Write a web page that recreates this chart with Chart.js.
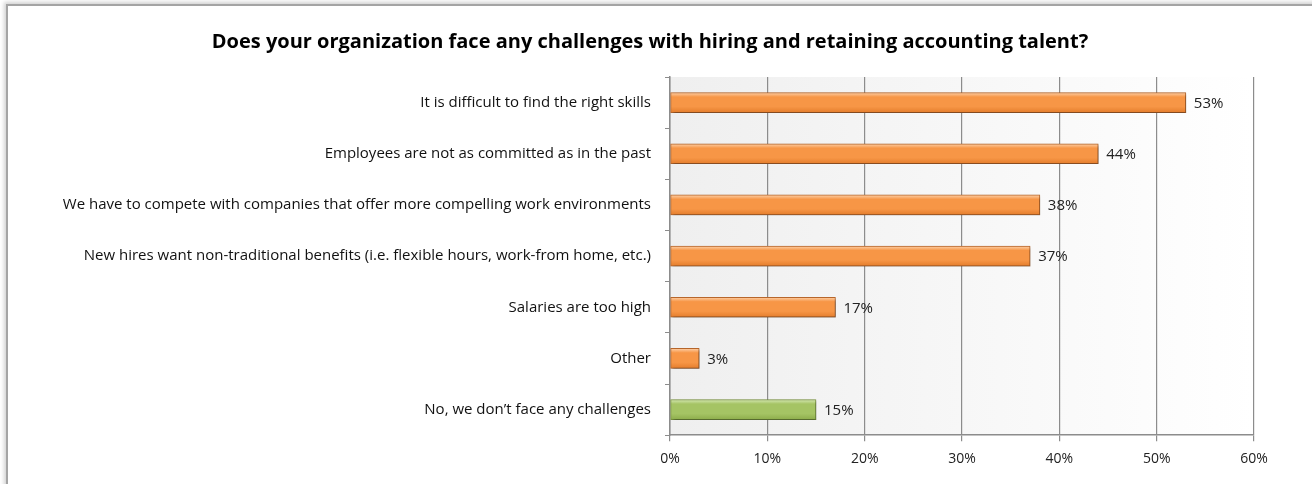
<!DOCTYPE html>
<html>
<head>
<meta charset="utf-8">
<title>Hiring and retaining accounting talent</title>
<script src="https://cdn.jsdelivr.net/npm/chart.js@4/dist/chart.umd.min.js"></script>
<style>
  html, body { margin: 0; padding: 0; background: #fff; overflow: hidden; }
  #wrap { position: relative; width: 1312px; height: 484px; }
  #frame {
    position: absolute; left: 6px; top: 4px; right: -20px; bottom: -20px;
    border-left: 2px solid #a4a4a4; border-top: 2px solid #a4a4a4;
    box-shadow: -2px -2px 4px rgba(0, 0, 0, 0.18);
    pointer-events: none;
  }
  canvas { position: absolute; left: 0; top: 0; }
</style>
</head>
<body>
<div id="wrap">
  <div id="frame"></div>
  <canvas id="talentChart" width="1312" height="484"></canvas>
</div>
<script>
// survey answers, top to bottom
const answers = [
  'It is difficult to find the right skills',
  'Employees are not as committed as in the past',
  'We have to compete with companies that offer more compelling work environments',
  'New hires want non-traditional benefits (i.e. flexible hours, work-from home, etc.)',
  'Salaries are too high',
  'Other',
  'No, we don\u2019t face any challenges'
];
// share of respondents, %
const shares = [53, 44, 38, 37, 17, 3, 15];
const axisTicks = [0, 10, 20, 30, 40, 50, 60];

const FONT = "'Open Sans', 'Liberation Sans', sans-serif";

// [top highlight, body, bottom shade, edge]
const orangeTone = ['#fdd0a8', '#f79646', '#e47d2c', '#b8672b'];
const greenTone = ['#d6e8b4', '#a5c464', '#8dad4b', '#7a9640'];

function toneFor(i) {
  // the "no challenges" answer is set apart in green
  return i === answers.length - 1 ? greenTone : orangeTone;
}

function barFill(ctx) {
  const tone = toneFor(ctx.dataIndex);
  const chart = ctx.chart;
  const yScale = chart.scales.y;
  if (!yScale || !chart.chartArea) return tone[1];
  const c = yScale.getPixelForValue(ctx.dataIndex);
  const g = chart.ctx.createLinearGradient(0, c - 10, 0, c + 10);
  g.addColorStop(0, tone[0]);
  g.addColorStop(0.22, tone[1]);
  g.addColorStop(0.7, tone[1]);
  g.addColorStop(1, tone[2]);
  return g;
}

// light grey fading to white behind the bars
const plotBackground = {
  id: 'plotBackground',
  beforeDraw(chart) {
    const { ctx, chartArea: a } = chart;
    const g = ctx.createLinearGradient(a.left, 0, a.right, 0);
    g.addColorStop(0, '#efefef');
    g.addColorStop(1, '#ffffff');
    ctx.save();
    ctx.fillStyle = g;
    ctx.fillRect(a.left, a.top, a.right - a.left, a.bottom - a.top);
    ctx.restore();
  }
};

// soft drop shadow under the bars
const barShadow = {
  id: 'barShadow',
  beforeDatasetsDraw(chart) {
    const ctx = chart.ctx;
    ctx.save();
    ctx.shadowColor = 'rgba(0, 0, 0, 0.35)';
    ctx.shadowOffsetX = 2;
    ctx.shadowOffsetY = 2;
    ctx.shadowBlur = 3;
  },
  afterDatasetsDraw(chart) {
    chart.ctx.restore();
  }
};

// percentage written just past the end of each bar
const valueLabels = {
  id: 'valueLabels',
  afterDraw(chart) {
    const ctx = chart.ctx;
    const meta = chart.getDatasetMeta(0);
    ctx.save();
    ctx.font = '15px ' + FONT;
    ctx.fillStyle = '#222';
    ctx.textAlign = 'left';
    ctx.textBaseline = 'middle';
    meta.data.forEach((bar, i) => {
      ctx.fillText(shares[i] + '%', bar.x + 8, bar.y + 1);
    });
    ctx.restore();
  }
};

new Chart(document.getElementById('talentChart'), {
  type: 'bar',
  data: {
    labels: answers,
    datasets: [{
      data: shares,
      backgroundColor: barFill,
      borderColor: ctx => toneFor(ctx.dataIndex)[3],
      borderWidth: 1,
      borderSkipped: false,
      barThickness: 20
    }]
  },
  options: {
    indexAxis: 'y',
    responsive: false,
    animation: false,
    layout: {
      padding: { left: 46, right: 58, top: 0, bottom: 8 }
    },
    plugins: {
      legend: { display: false },
      tooltip: { enabled: false },
      title: {
        display: true,
        text: 'Does your organization face any challenges with hiring and retaining accounting talent?',
        color: '#000',
        font: { family: FONT, size: 20, weight: 'bold' },
        padding: { top: 30, bottom: 23 }
      }
    },
    scales: {
      x: {
        min: 0,
        max: 60,
        afterBuildTicks: scale => {
          scale.ticks = axisTicks.map(v => ({ value: v }));
        },
        ticks: {
          color: '#222',
          font: { family: FONT, size: 14 },
          padding: 9,
          maxRotation: 0,
          callback: v => v + '%'
        },
        grid: {
          color: '#8c8c8c',
          lineWidth: 1.2,
          tickLength: 6
        },
        border: { color: '#8c8c8c', width: 1.5 }
      },
      y: {
        afterFit: scale => { scale.width = 624; },
        ticks: {
          color: '#111',
          font: { family: FONT, size: 15 },
          padding: 14
        },
        grid: {
          drawOnChartArea: false,
          color: '#8c8c8c',
          tickLength: 5
        },
        border: { color: '#8c8c8c', width: 1.5 }
      }
    }
  },
  plugins: [plotBackground, barShadow, valueLabels]
});
</script>
</body>
</html>
